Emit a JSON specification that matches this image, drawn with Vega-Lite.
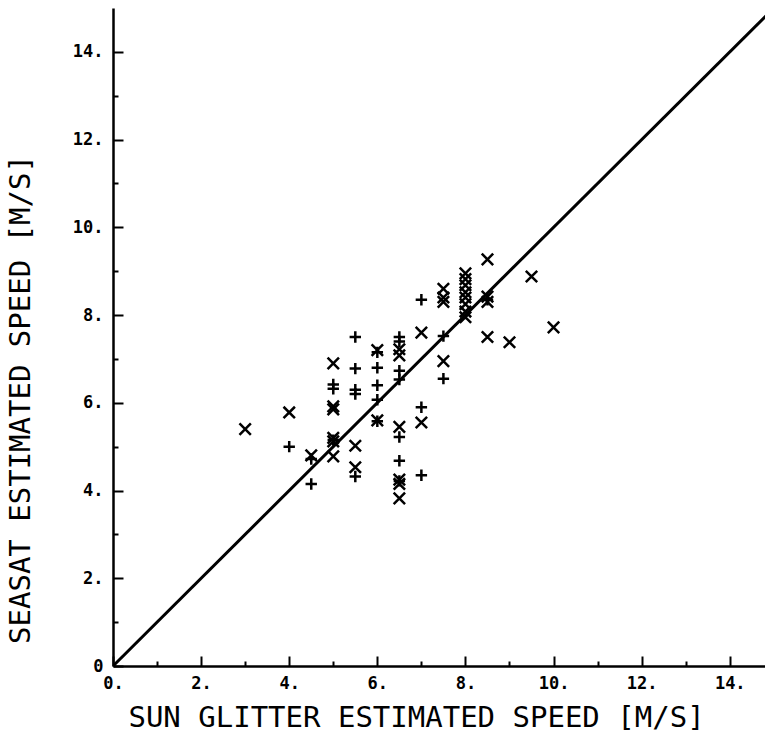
{
  "$schema": "https://vega.github.io/schema/vega-lite/v6.json",
  "autosize": "none",
  "width": 652,
  "height": 658,
  "padding": {"left": 113, "top": 8, "right": 0, "bottom": 75},
  "background": "white",
  "config": {"view": {"stroke": null}},
  "datasets": {
    "points": [
      {"sun": 3.0, "seasat": 5.4, "sym": "x"},
      {"sun": 4.0, "seasat": 5.78, "sym": "x"},
      {"sun": 4.5, "seasat": 4.8, "sym": "x"},
      {"sun": 5.0, "seasat": 6.9, "sym": "x"},
      {"sun": 5.0, "seasat": 5.92, "sym": "x"},
      {"sun": 5.0, "seasat": 5.85, "sym": "x"},
      {"sun": 5.0, "seasat": 5.2, "sym": "x"},
      {"sun": 5.0, "seasat": 5.12, "sym": "x"},
      {"sun": 5.0, "seasat": 4.78, "sym": "x"},
      {"sun": 5.5, "seasat": 5.02, "sym": "x"},
      {"sun": 5.5, "seasat": 4.53, "sym": "x"},
      {"sun": 6.0, "seasat": 7.2, "sym": "x"},
      {"sun": 6.0, "seasat": 5.6, "sym": "x"},
      {"sun": 6.5, "seasat": 7.22, "sym": "x"},
      {"sun": 6.5, "seasat": 7.08, "sym": "x"},
      {"sun": 6.5, "seasat": 5.45, "sym": "x"},
      {"sun": 6.5, "seasat": 4.25, "sym": "x"},
      {"sun": 6.5, "seasat": 4.15, "sym": "x"},
      {"sun": 6.5, "seasat": 3.82, "sym": "x"},
      {"sun": 7.0, "seasat": 7.6, "sym": "x"},
      {"sun": 7.0, "seasat": 5.55, "sym": "x"},
      {"sun": 7.5, "seasat": 8.6, "sym": "x"},
      {"sun": 7.5, "seasat": 8.4, "sym": "x"},
      {"sun": 7.5, "seasat": 8.3, "sym": "x"},
      {"sun": 7.5, "seasat": 6.95, "sym": "x"},
      {"sun": 8.0, "seasat": 8.95, "sym": "x"},
      {"sun": 8.0, "seasat": 8.82, "sym": "x"},
      {"sun": 8.0, "seasat": 8.68, "sym": "x"},
      {"sun": 8.0, "seasat": 8.52, "sym": "x"},
      {"sun": 8.0, "seasat": 8.4, "sym": "x"},
      {"sun": 8.0, "seasat": 8.25, "sym": "x"},
      {"sun": 8.0, "seasat": 8.08, "sym": "x"},
      {"sun": 8.0, "seasat": 7.95, "sym": "x"},
      {"sun": 8.5, "seasat": 9.27, "sym": "x"},
      {"sun": 8.5, "seasat": 8.42, "sym": "x"},
      {"sun": 8.5, "seasat": 8.3, "sym": "x"},
      {"sun": 8.5, "seasat": 7.5, "sym": "x"},
      {"sun": 9.0, "seasat": 7.38, "sym": "x"},
      {"sun": 9.5, "seasat": 8.88, "sym": "x"},
      {"sun": 10.0, "seasat": 7.72, "sym": "x"},
      {"sun": 4.0, "seasat": 5.0, "sym": "+"},
      {"sun": 4.5, "seasat": 4.72, "sym": "+"},
      {"sun": 4.5, "seasat": 4.15, "sym": "+"},
      {"sun": 5.0, "seasat": 6.42, "sym": "+"},
      {"sun": 5.0, "seasat": 6.32, "sym": "+"},
      {"sun": 5.0, "seasat": 5.15, "sym": "+"},
      {"sun": 5.5, "seasat": 7.5, "sym": "+"},
      {"sun": 5.5, "seasat": 6.78, "sym": "+"},
      {"sun": 5.5, "seasat": 6.3, "sym": "+"},
      {"sun": 5.5, "seasat": 6.2, "sym": "+"},
      {"sun": 5.5, "seasat": 4.32, "sym": "+"},
      {"sun": 6.0, "seasat": 7.15, "sym": "+"},
      {"sun": 6.0, "seasat": 6.8, "sym": "+"},
      {"sun": 6.0, "seasat": 6.4, "sym": "+"},
      {"sun": 6.0, "seasat": 6.07, "sym": "+"},
      {"sun": 6.0, "seasat": 5.58, "sym": "+"},
      {"sun": 6.5, "seasat": 7.5, "sym": "+"},
      {"sun": 6.5, "seasat": 7.4, "sym": "+"},
      {"sun": 6.5, "seasat": 6.73, "sym": "+"},
      {"sun": 6.5, "seasat": 6.53, "sym": "+"},
      {"sun": 6.5, "seasat": 5.22, "sym": "+"},
      {"sun": 6.5, "seasat": 4.68, "sym": "+"},
      {"sun": 6.5, "seasat": 4.22, "sym": "+"},
      {"sun": 7.0, "seasat": 8.35, "sym": "+"},
      {"sun": 7.0, "seasat": 5.9, "sym": "+"},
      {"sun": 7.0, "seasat": 4.35, "sym": "+"},
      {"sun": 7.5, "seasat": 7.52, "sym": "+"},
      {"sun": 7.5, "seasat": 6.55, "sym": "+"},
      {"sun": 8.5, "seasat": 8.35, "sym": "+"}
    ],
    "diag": [
      {"sun": 0, "seasat": 0},
      {"sun": 15, "seasat": 15}
    ]
  },
  "layer": [
    {
      "data": {"name": "diag"},
      "mark": {"type": "line", "color": "black", "strokeWidth": 3, "clip": true},
      "encoding": {
        "x": {
          "field": "sun", "type": "quantitative",
          "scale": {"domain": [0, 14.8], "nice": false, "zero": false},
          "axis": {
            "title": "SUN GLITTER ESTIMATED SPEED [M/S]",
            "values": [0,0.5,1,1.5,2,2.5,3,3.5,4,4.5,5,5.5,6,6.5,7,7.5,8,8.5,9,9.5,10,10.5,11,11.5,12,12.5,13,13.5,14,14.5],
            "labelExpr": "datum.value % 2 == 0 ? datum.value + '.' : ''",
            "labelFont": "DejaVu Sans Mono", "labelFontWeight": "bold", "labelFontSize": 17, "labelColor": "black",
            "labelOverlap": false, "labelFlush": false, "labelPadding": 19,
            "tickColor": "black", "tickWidth": 2,
            "tickSize": {"condition": {"test": "datum.value % 2 == 0", "value": -10}, "value": -5},
            "domainColor": "black", "domainWidth": 2.5, "grid": false,
            "titleFont": "DejaVu Sans Mono", "titleFontWeight": "normal", "titleFontSize": 29, "titleColor": "black",
            "titleX": 303, "titleY": 51, "titleBaseline": "middle", "titleAlign": "center"
          }
        },
        "y": {
          "field": "seasat", "type": "quantitative",
          "scale": {"domain": [0, 15], "nice": false, "zero": false},
          "axis": {
            "title": "SEASAT ESTIMATED SPEED [M/S]",
            "values": [0,0.5,1,1.5,2,2.5,3,3.5,4,4.5,5,5.5,6,6.5,7,7.5,8,8.5,9,9.5,10,10.5,11,11.5,12,12.5,13,13.5,14,14.5],
            "labelExpr": "datum.value == 0 ? '0' : (datum.value % 2 == 0 ? datum.value + '.' : '')",
            "labelFont": "DejaVu Sans Mono", "labelFontWeight": "bold", "labelFontSize": 17, "labelColor": "black",
            "labelOverlap": false, "labelFlush": false, "labelPadding": 20,
            "tickColor": "black", "tickWidth": 2,
            "tickSize": {"condition": {"test": "datum.value % 2 == 0", "value": -10}, "value": -5},
            "domainColor": "black", "domainWidth": 2.5, "grid": false,
            "titleFont": "DejaVu Sans Mono", "titleFontWeight": "normal", "titleFontSize": 29, "titleColor": "black",
            "titleX": -93, "titleY": 391, "titleBaseline": "middle", "titleAlign": "center", "titleAngle": -90
          }
        }
      }
    },
    {
      "mark": {"type": "rule", "color": "black", "strokeWidth": 2.5},
      "encoding": {"y": {"datum": 15}}
    },
    {
      "data": {"name": "points"},
      "mark": {"type": "point", "filled": false, "stroke": "black", "strokeWidth": 2.5, "opacity": 1, "size": 130},
      "encoding": {
        "x": {"field": "sun", "type": "quantitative"},
        "y": {"field": "seasat", "type": "quantitative"},
        "shape": {
          "field": "sym", "type": "nominal",
          "scale": {"domain": ["x", "+"], "range": ["M-1,-1L1,1M-1,1L1,-1", "M-1,0L1,0M0,-1L0,1"]},
          "legend": null
        }
      }
    }
  ]
}
